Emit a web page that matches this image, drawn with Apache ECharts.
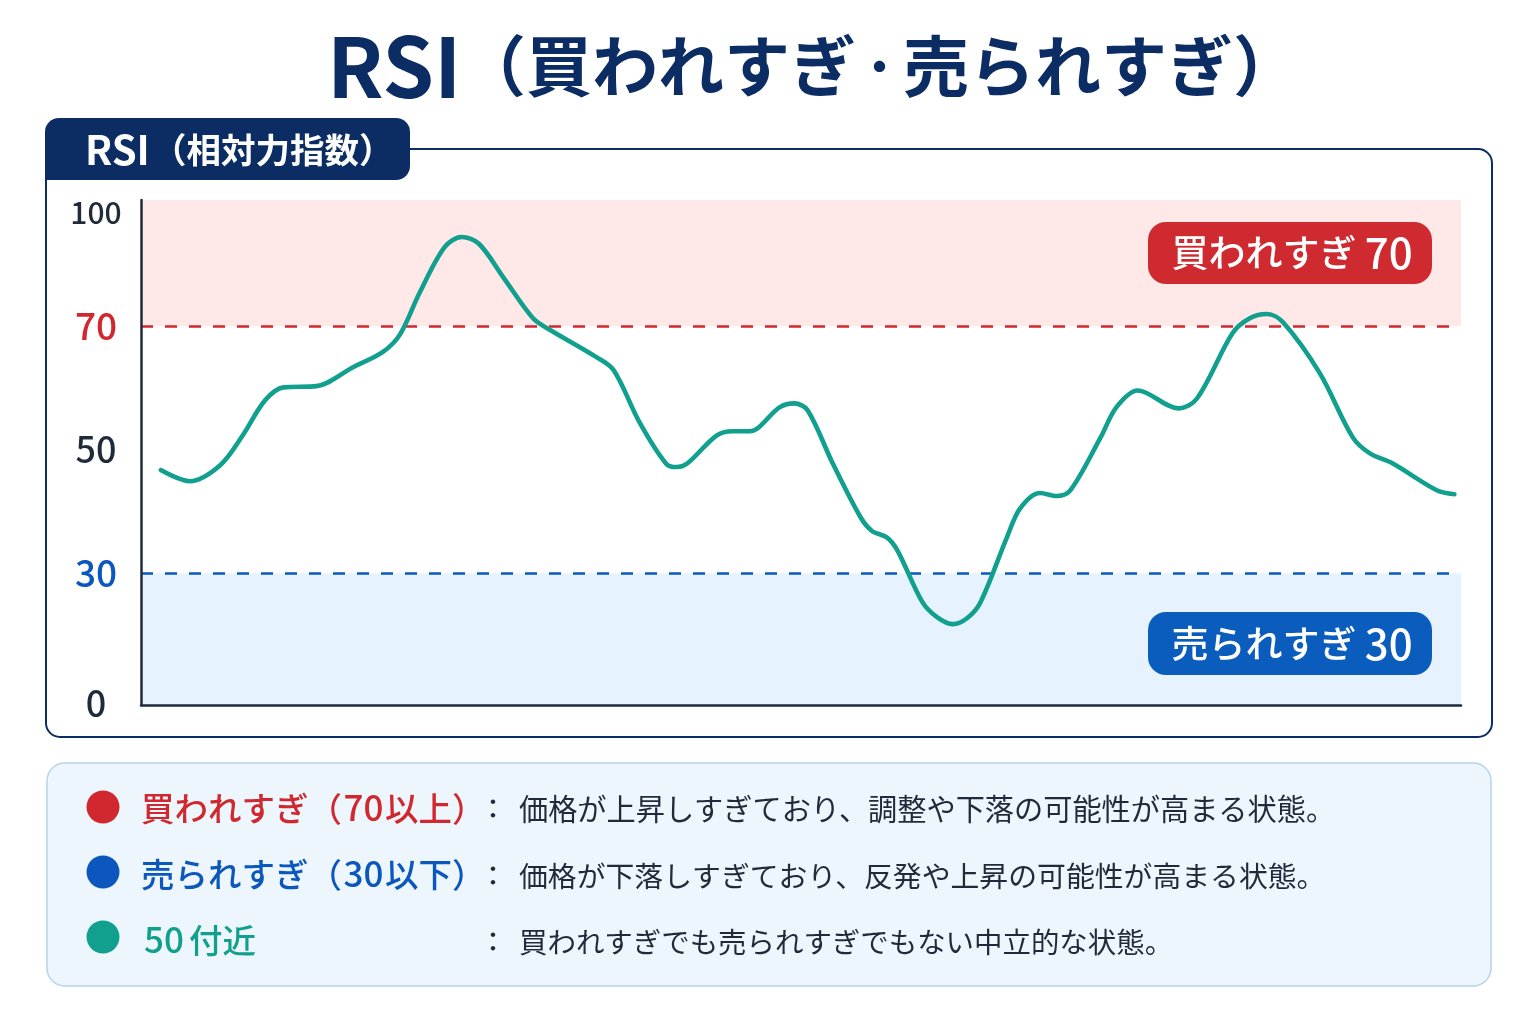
<!DOCTYPE html>
<html lang="ja">
<head>
<meta charset="utf-8">
<title>RSI</title>
<script src="https://cdn.jsdelivr.net/npm/echarts@6/dist/echarts.min.js"></script>
<style>
html, body { margin: 0; padding: 0; background: #fff; }
#main { width: 1536px; height: 1024px; }
</style>
</head>
<body>
<div id="main"></div>
<script>
// RSI readings along the time axis (0-100 = left to right of the plot)
var sessions = [1.5, 3.7, 6.0, 7.7, 9.4, 10.8, 13.3, 16.1, 18.3, 19.6, 21.1, 23.0, 24.3, 25.6, 27.5, 29.7, 31.0, 34.5, 35.8, 37.8,
    39.8, 40.6, 41.4, 43.6, 44.8, 46.1, 48.4, 49.5, 50.5, 52.4, 54.5, 55.4, 56.5, 57.3, 59.2, 60.3, 61.5, 62.6, 63.6, 65.6,
    66.6, 68.1, 69.4, 70.4, 72.7, 73.9, 75.5, 78.6, 80.0, 82.7, 84.0, 85.3, 86.5, 89.3, 91.8, 93.1, 94.8, 98.2, 99.5];
var rsiValues = [46.7, 44.9, 47.5, 52.3, 58.0, 60.1, 60.3, 63.4, 65.8, 68.6, 77.9, 88.8, 91.2, 89.6, 81.4, 71.9, 69.4, 65.0, 62.9, 54.3,
    47.7, 47.2, 47.8, 52.3, 53.0, 53.0, 56.9, 57.5, 56.4, 47.8, 39.1, 36.8, 35.8, 33.7, 23.4, 20.0, 18.4, 19.8, 23.4, 35.8,
    40.5, 43.0, 42.5, 43.4, 52.0, 56.9, 59.6, 56.7, 58.3, 68.9, 71.9, 72.9, 71.0, 62.4, 52.0, 49.4, 47.8, 43.4, 42.8];

var yTicks = [0, 30, 50, 70, 100];
var overbought = 70;
var oversold = 30;

var legendTexts = [
    '価格が上昇しすぎており、調整や下落の可能性が高まる状態。',
    '価格が下落しすぎており、反発や上昇の可能性が高まる状態。',
    '買われすぎでも売られすぎでもない中立的な状態。'
];

var RED = '#d0282e';
var BLUE = '#0b57bd';
var GREEN = '#12a08e';
var NAVY = '#0b2d64';
var INK = '#1f2b3a';
var FONT = '"Noto Sans CJK JP", "Noto Sans", sans-serif';

// the reference axis is not linear: the 30-70 zone is stretched
var scaleFrom = [0, 30, 70, 100];
var scaleTo = [0, 26.1, 75, 100];

function remap(v, from, to) {
    for (var i = 1; i < from.length; i++) {
        if (v <= from[i]) {
            return to[i - 1] + (v - from[i - 1]) / (from[i] - from[i - 1]) * (to[i] - to[i - 1]);
        }
    }
    return to[to.length - 1];
}
function toAxis(v) { return remap(v, scaleFrom, scaleTo); }
function fromAxis(v) { return remap(v, scaleTo, scaleFrom); }

function label(x, y, text, size, color, weight, align, rich) {
    return {
        type: 'text',
        z: 100,
        style: {
            x: x, y: y, text: text,
            fontFamily: FONT, fontSize: size, fontWeight: weight || 500,
            fill: color, textAlign: align || 'left', textVerticalAlign: 'middle',
            rich: rich
        }
    };
}

function token(size, color, weight, width, align) {
    var t = { fontFamily: FONT, fontSize: size, fontWeight: weight, fill: color, color: color, lineHeight: size * 1.2 };
    if (width) {
        t.width = width;
        t.align = align || 'center';
    }
    return t;
}

var pillRich = { j: token(37, '#fff', 500), n: token(42, '#fff', 500) };

var graphics = [
    // chart frame and its tab
    { type: 'rect', z: 100, shape: { x: 46, y: 149, width: 1446, height: 588, r: 14 }, style: { fill: 'none', stroke: NAVY, lineWidth: 2 } },
    { type: 'rect', z: 100, shape: { x: 45, y: 118, width: 365, height: 62, r: [14, 14, 14, 0] }, style: { fill: NAVY } },
    label(85, 150, '{a|RSI}{b|（相対力指数）}', 34, '#fff', 700, 'left', {
        a: token(40, '#fff', 700, 67, 'left'), b: token(34.5, '#fff', 700)
    }),
    // title
    label(327, 66, '{a|RSI}{b|（買われすぎ}{d|・}{b|売られすぎ）}', 66, NAVY, 700, 'left', {
        a: token(83, NAVY, 700, 133, 'left'), b: token(66, NAVY, 700), d: token(44, NAVY, 700, 47)
    }),
    // zone pills
    { type: 'rect', z: 100, shape: { x: 1148, y: 222, width: 284, height: 62, r: 18 }, style: { fill: '#cf2a30' } },
    label(1292, 253, '{j|買われすぎ }{n|70}', 37, '#fff', 500, 'center', pillRich),
    { type: 'rect', z: 100, shape: { x: 1148, y: 612, width: 284, height: 63, r: 18 }, style: { fill: '#0a5cbd' } },
    label(1292, 644, '{j|売られすぎ }{n|30}', 37, '#fff', 500, 'center', pillRich),
    // explanation box
    { type: 'rect', z: 100, shape: { x: 47, y: 763, width: 1444, height: 223, r: 18 }, style: { fill: '#eef6fd', stroke: '#b6d4ec', lineWidth: 1.5 } }
];

var legendColors = [RED, BLUE, GREEN];
var legendNames = ['{j|買われすぎ（}{n|70}{j|以上）}', '{j|売られすぎ（}{n|30}{j|以下）}', '{n|50}{j|付近}'];
var legendY = [807, 873, 939];
var textY = [809, 876, 942];
var textSize = [29.2, 28.85, 28.45];
legendNames.forEach(function (name, i) {
    var color = legendColors[i];
    graphics.push({ type: 'circle', z: 100, shape: { cx: 103, cy: legendY[i] - i, r: 16.5 }, style: { fill: color } });
    graphics.push(label(i === 2 ? 139 : 141, legendY[i] + 1, name, 33, color, 500, 'left', {
        j: token(33.5, color, 500), n: token(35, color, 500, i === 2 ? 50 : 43)
    }));
    graphics.push(label(493, textY[i], '：', 27, INK, 500, 'center'));
    graphics.push(label(519, textY[i], legendTexts[i], textSize[i], INK, 400));
});

var myChart = echarts.init(document.getElementById('main'));

var option = {
    backgroundColor: '#fff',
    animation: false,
    graphic: graphics,
    grid: { left: 141, right: 75, top: 200, bottom: 319 },
    xAxis: {
        type: 'value', min: 0, max: 100, z: 20,
        axisLine: { show: true, lineStyle: { color: INK, width: 2.5 } },
        axisTick: { show: false },
        axisLabel: { show: false },
        splitLine: { show: false }
    },
    yAxis: {
        type: 'value', min: 0, max: 100, z: 20,
        axisLine: { show: true, onZero: false, lineStyle: { color: INK, width: 2.5 } },
        axisTick: { show: false },
        splitLine: { show: false },
        axisLabel: {
            customValues: yTicks.map(toAxis),
            margin: 45,
            align: 'center',
            verticalAlignMaxLabel: 'top',
            formatter: function (value) {
                var v = Math.round(fromAxis(value));
                if (v === overbought) return '{red|' + v + '}';
                if (v === oversold) return '{blue|' + v + '}';
                if (v === 100) return '{top|' + v + '}';
                if (v === 0) return '{zero|' + v + '}';
                return '{dark|' + v + '}';
            },
            rich: {
                top: { fontFamily: FONT, fontSize: 30, fontWeight: 500, color: INK, lineHeight: 26 },
                dark: { fontFamily: FONT, fontSize: 36, fontWeight: 500, color: INK },
                zero: { fontFamily: FONT, fontSize: 36, fontWeight: 500, color: INK, padding: [0, 0, 4, 0] },
                red: { fontFamily: FONT, fontSize: 37, fontWeight: 500, color: RED },
                blue: { fontFamily: FONT, fontSize: 37, fontWeight: 500, color: BLUE }
            }
        }
    },
    series: [{
        type: 'line',
        data: sessions.map(function (s, i) { return [s, toAxis(rsiValues[i])]; }),
        smooth: 0.33,
        showSymbol: false,
        lineStyle: { color: GREEN, width: 4.6, cap: 'round' },
        z: 5,
        markArea: {
            silent: true,
            data: [
                [{ yAxis: toAxis(overbought), itemStyle: { color: '#fee8e8', opacity: 1 } }, { yAxis: toAxis(100) }],
                [{ yAxis: toAxis(0), itemStyle: { color: '#e6f3fe', opacity: 1 } }, { yAxis: toAxis(oversold) }]
            ]
        },
        markLine: {
            silent: true,
            symbol: 'none',
            label: { show: false },
            data: [
                { yAxis: toAxis(overbought), lineStyle: { color: RED, width: 2.5, type: [12, 12], opacity: 1 } },
                { yAxis: toAxis(oversold), lineStyle: { color: BLUE, width: 2.5, type: [12, 12], opacity: 1 } }
            ]
        }
    }]
};

myChart.setOption(option);
</script>
</body>
</html>
